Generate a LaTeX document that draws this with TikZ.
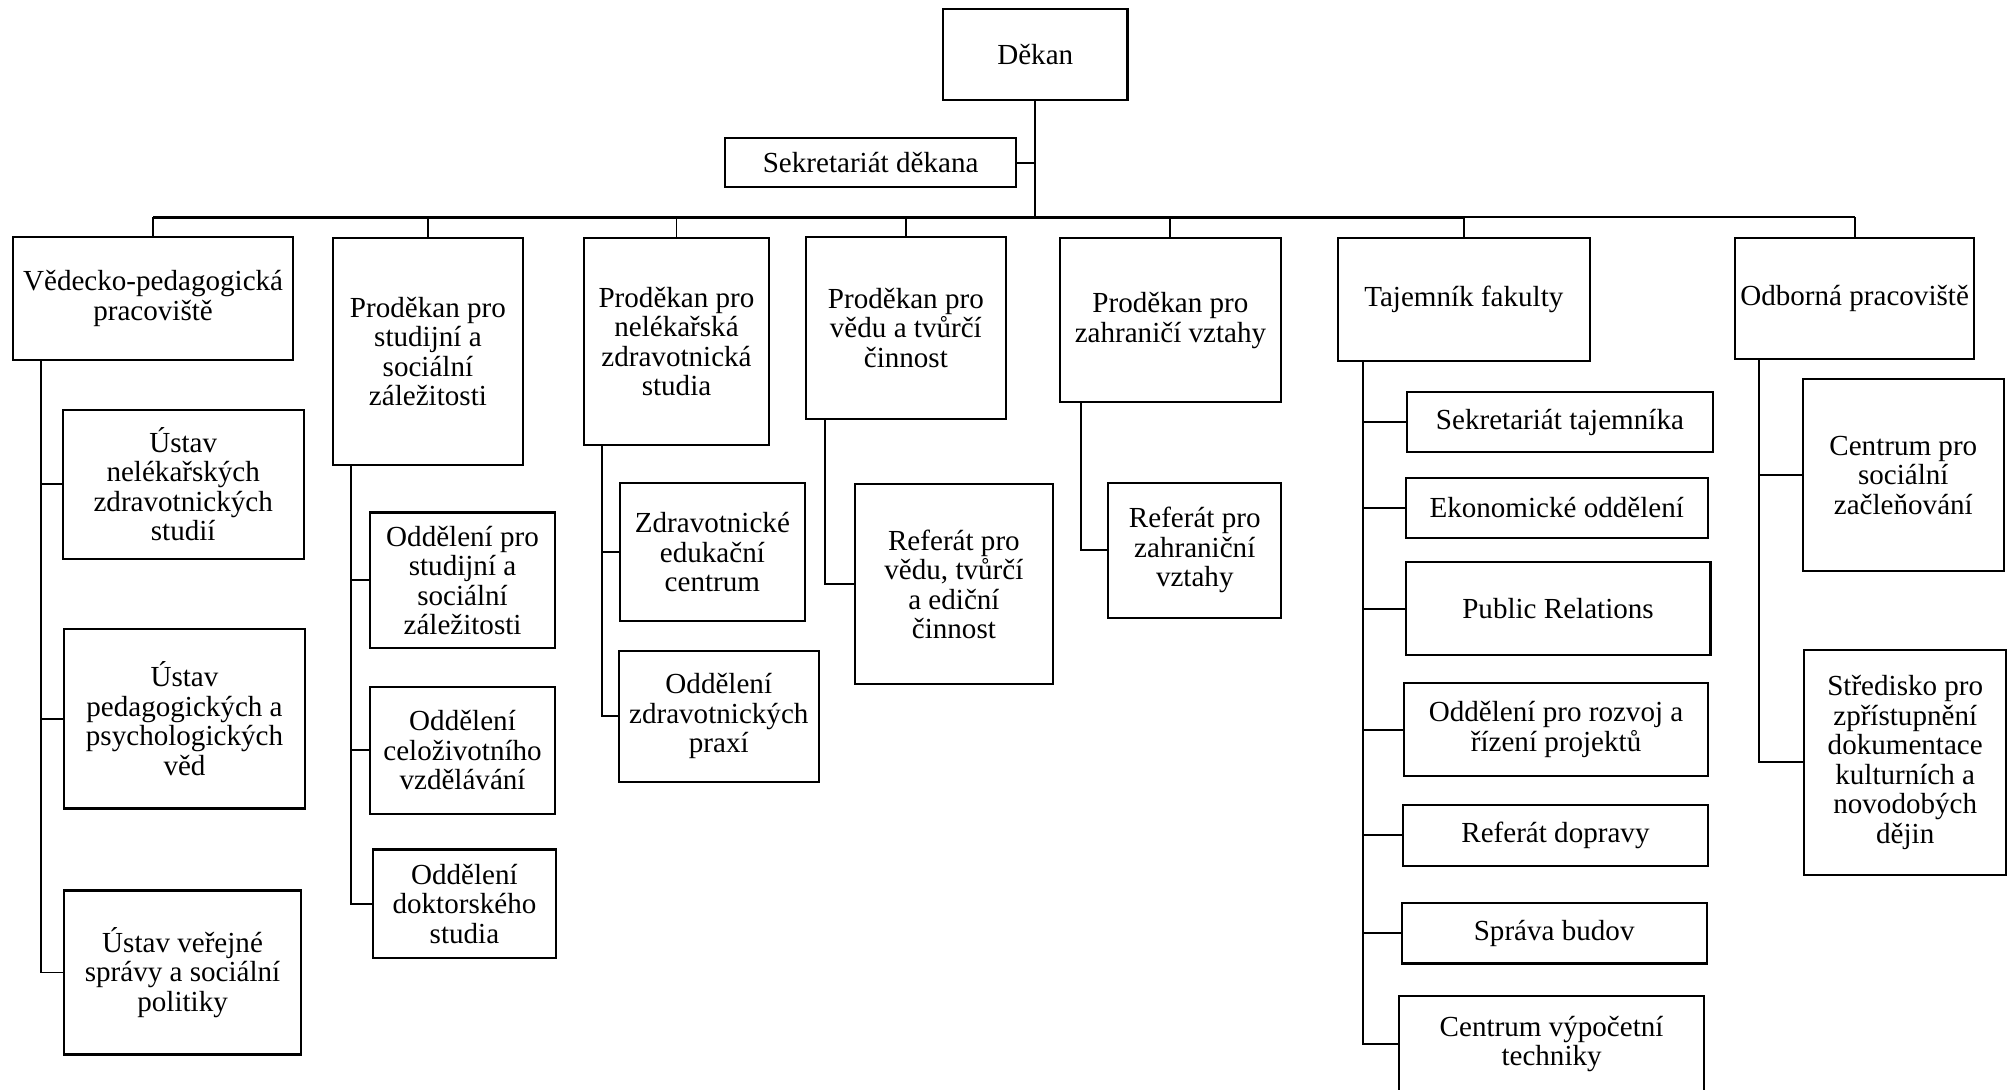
\documentclass[tikz,border=0pt]{standalone}
\usepackage{fontspec}
\setmainfont{Liberation Serif}
\newcommand\obox[6]{\node[ob, minimum width={(#4-#2)*1pt}, minimum height={(#5-#3)*1pt}] (#1) at ({(#2+#4)/2},{(#3+#5)/2}) {#6};}
\tikzset{
  ob/.style={draw, line width=1.6pt, align=center, inner sep=0pt, fill=white,
    font=\fontsize{22.7}{23}\selectfont},
  conn/.style={line width=1.5pt},
  busline/.style={line width=2.2pt},
}
\begin{document}
\begin{tikzpicture}[x=1pt,y=-1pt]
\useasboundingbox[fill=white] (0,0) rectangle (1568,850);
% top
\obox{dekan}{736}{7}{880}{78}{Děkan}
\obox{sek}{566}{108}{793}{146}{Sekretariát děkana}
% level 1
\obox{c1}{10}{185}{229}{281}{Vědecko-pedagogická\\pracoviště}
\obox{c2}{260}{186}{408}{363}{Proděkan pro\\studijní a\\sociální\\záležitosti}
\obox{c3}{456}{186}{600}{347}{Proděkan pro\\nelékařská\\zdravotnická\\studia}
\obox{c4}{629}{185}{785}{327}{Proděkan pro\\vědu a tvůrčí\\činnost}
\obox{c5}{827}{186}{1000}{314}{Proděkan pro\\zahraničí vztahy}
\obox{c6}{1044}{186}{1241}{282}{Tajemník fakulty}
\obox{c7}{1354}{186}{1541}{280}{Odborná pracoviště}
% column 1
\obox{k11}{49}{320}{237}{436}{Ústav\\nelékařských\\zdravotnických\\studií}
\obox{k12}{50}{491}{238}{631}{\fontsize{22.7}{25.3}\selectfont Ústav\\pedagogických a\\psychologických\\věd}
\obox{k13}{50}{695}{235}{823}{Ústav veřejné\\správy a sociální\\politiky}
% column 2
\obox{k21}{289}{400}{433}{506}{Oddělení pro\\studijní a\\sociální\\záležitosti}
\obox{k22}{289}{536}{433}{635}{Oddělení\\celoživotního\\vzdělávání}
\obox{k23}{291}{663}{434}{748}{Oddělení\\doktorského\\studia}
% column 3
\obox{k31}{484}{377}{628}{485}{Zdravotnické\\edukační\\centrum}
\obox{k32}{483}{508}{639}{610}{Oddělení\\zdravotnických\\praxí}
% column 4
\obox{k41}{667}{378}{822}{534}{Referát pro\\vědu, tvůrčí\\a ediční\\činnost}
% column 5
\obox{k51}{865}{377}{1000}{482}{Referát pro\\zahraniční\\vztahy}
% column 6
\obox{k61}{1098}{306}{1337}{353}{Sekretariát tajemníka}
\obox{k62}{1097}{373}{1333}{420}{Ekonomické oddělení}
\obox{k63}{1097}{439}{1335}{511}{Public Relations}
\obox{k64}{1096}{533}{1333}{606}{Oddělení pro rozvoj a\\řízení projektů}
\obox{k65}{1095}{628}{1333}{676}{Referát dopravy}
\obox{k66}{1094}{705}{1332}{752}{Správa budov}
\obox{k67}{1092}{777}{1330}{853}{Centrum výpočetní\\techniky}
% column 7
\obox{k71}{1407}{296}{1564}{446}{Centrum pro\\sociální\\začleňování}
\obox{k72}{1408}{507}{1566}{683}{Středisko pro\\zpřístupnění\\dokumentace\\kulturních a\\novodobých\\dějin}

% connectors top
\coordinate (bus) at (0,169.5);
\draw[conn, line width=1.8pt] (dekan.south) -- (dekan.south |- bus);
\draw[conn] (sek.east) -- (sek.east -| dekan.south);
\draw[busline] (c1.north |- bus) -- (c6.north |- bus);
\draw[conn] (c6.north |- bus) -- (c7.north |- bus);
\foreach \c in {c1,c2,c3,c4,c5,c6,c7}{\draw[conn] (\c.north) -- (\c.north |- bus);}

% spines
\coordinate (s1) at (32,0);
\coordinate (s2) at (274,0);
\coordinate (s3) at (470,0);
\coordinate (s4) at (644,0);
\coordinate (s5) at (844,0);
\coordinate (s6) at (1064,0);
\coordinate (s7) at (1373,0);

\draw[conn] (c1.south -| s1) |- (k13.west);
\foreach \k in {k11,k12}{\draw[conn] (\k.west) -- (\k.west -| s1);}
\draw[conn] (c2.south -| s2) |- (k23.west);
\foreach \k in {k21,k22}{\draw[conn] (\k.west) -- (\k.west -| s2);}
\draw[conn] (c3.south -| s3) |- (k32.west);
\draw[conn] (k31.west) -- (k31.west -| s3);
\draw[conn] (c4.south -| s4) |- (k41.west);
\draw[conn] (c5.south -| s5) |- (k51.west);
\draw[conn] (c6.south -| s6) |- (k67.west);
\foreach \k in {k61,k62,k63,k64,k65,k66}{\draw[conn] (\k.west) -- (\k.west -| s6);}
\draw[conn] (c7.south -| s7) |- (k72.west);
\draw[conn] (k71.west) -- (k71.west -| s7);
\end{tikzpicture}
\end{document}
